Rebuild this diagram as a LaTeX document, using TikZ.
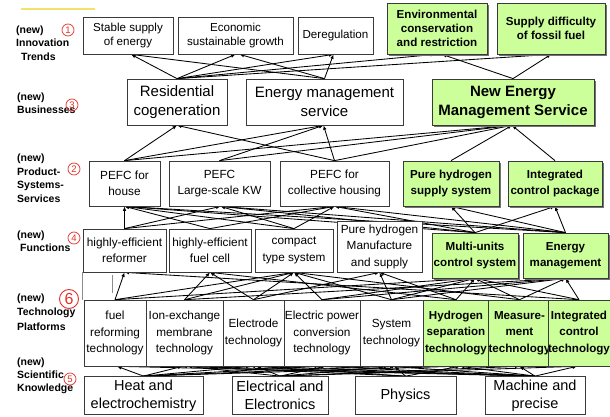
\documentclass[tikz,border=0pt]{standalone}
\usepackage{fontspec}
\setmainfont{Liberation Sans}
\usetikzlibrary{arrows.meta,shadows,backgrounds}
\definecolor{leaf}{HTML}{CCFF99}
\definecolor{mark}{HTML}{E2322B}
\definecolor{frame}{HTML}{3A3A3A}
\definecolor{hilite}{HTML}{F2E46A}
\begin{document}
\begin{tikzpicture}[x=1pt,y=-1pt,
  box/.style={draw=frame, line width=0.75pt, fill=white, inner sep=0pt, align=center},
  hot/.style={box, fill=leaf, drop shadow={shadow xshift=1.6pt, shadow yshift=-1.6pt, fill=black!55, opacity=1}},
  cell/.style={box, line width=0.6pt},
  gcell/.style={cell, fill=leaf},
  fa/.style={font=\fontsize{11.6}{14}\selectfont},
  fab/.style={font=\fontsize{11.6}{14}\selectfont\bfseries},
  fb/.style={font=\fontsize{15}{19}\selectfont},
  fbb/.style={font=\fontsize{15}{19}\selectfont\bfseries},
  fc/.style={font=\fontsize{11.8}{16.5}\selectfont},
  fcb/.style={font=\fontsize{11.6}{16.5}\selectfont\bfseries},
  fd/.style={font=\fontsize{14.5}{18}\selectfont},
  lab/.style={font=\fontsize{10.5}{13.5}\selectfont\bfseries, align=left, anchor=west, inner sep=0pt},
  ring/.style={circle, draw=mark, text=mark, line width=0.7pt, inner sep=0pt, minimum size=12pt, font=\fontsize{9.5}{9.5}\selectfont},
  arr/.style={draw=black, line width=0.85pt, -{Latex[length=4.5pt,width=3.6pt]}},
  rule/.style={draw=black!45, line width=0.5pt}
]
\useasboundingbox (0,0) rectangle (610,417);

% marker strip at the top left
\draw[black!30, line width=2.2pt] (21,9) -- (95,9);
\draw[hilite, line width=1.4pt] (21,9) -- (95,9);

% ---------- row labels ----------
\node[lab] (tIT) at (16,43) {(new)\\Innovation\\\hspace{5pt}Trends};
\node[ring] (n1) at (68,30) {1};
\node[lab, font=\fontsize{10.5}{13}\selectfont\bfseries] (tBU) at (17,103.5) {(new)\\Businesses};
\node[ring] (n3) at (72,105) {3};
\node[lab] (tPS) at (17,178) {(new)\\Product-\\Systems-\\Services};
\node[ring] (n2) at (74,169) {2};
\node[lab] (tFU) at (17,241) {(new)\\\hspace{3pt}Functions};
\node[ring] (n4) at (74,238) {4};
\node[lab, font=\fontsize{10.5}{14.5}\selectfont\bfseries] (tTP) at (17,312) {(new)\\Technology\\Platforms};
\node[ring, minimum size=19pt, line width=0.9pt, font=\fontsize{16}{16}\selectfont] (n6) at (69,299) {6};
\node[lab, font=\fontsize{10.5}{13}\selectfont\bfseries] (tSK) at (17,376) {(new)\\Scientific\\Knowledge};
\node[ring] (n5) at (70,379) {5};

% ---------- innovation trends ----------
\node[box, fa, minimum width=90pt, minimum height=37pt] (stable) at (128,35.5) {Stable supply\\of energy};
\node[box, fa, minimum width=115pt, minimum height=37pt] (econ) at (235.5,35.5) {Economic\\sustainable growth};
\node[box, fa, minimum width=75pt, minimum height=37pt] (dereg) at (335.5,35.5) {Deregulation};
\node[hot, fab, minimum width=100pt, minimum height=51pt] (env) at (437,28.5) {Environmental\\conservation\\and restriction};
\node[hot, fab, minimum width=108pt, minimum height=51pt] (supply) at (551,28.5) {Supply difficulty\\of fossil fuel};

% ---------- businesses ----------
\node[box, fb, minimum width=100pt, minimum height=46pt] (res) at (177,102) {Residential\\cogeneration};
\node[box, fb, minimum width=157pt, minimum height=46pt] (ems) at (324.5,102) {Energy management\\service};
\node[hot, fbb, minimum width=162pt, minimum height=46pt] (nems) at (513,102) {New Energy\\Management Service};

% ---------- product / systems / services ----------
\node[box, fc, minimum width=71pt, minimum height=45pt] (house) at (124.5,183.5) {PEFC for\\house};
\node[box, fc, minimum width=101pt, minimum height=45pt] (large) at (219.5,183.5) {PEFC\\Large-scale KW};
\node[box, fc, minimum width=109pt, minimum height=45pt] (coll) at (334.5,183.5) {PEFC for\\collective housing};
\node[hot, fcb, minimum width=96pt, minimum height=45pt] (h2sup) at (451,183.5) {Pure hydrogen\\supply system};
\node[hot, fcb, minimum width=94pt, minimum height=45pt] (ictrl) at (555,183.5) {Integrated\\control package};

% ---------- functions ----------
\node[box, fc, minimum width=83pt, minimum height=43pt] (reformer) at (124.5,250.5) {highly-efficient\\reformer};
\node[box, fc, minimum width=82pt, minimum height=43pt] (fuelcell) at (210,250.5) {highly-efficient\\fuel cell};
\node[box, fc, minimum width=78pt, minimum height=43pt] (compact) at (294,250.5) {compact\\type system};
\node[box, fc, minimum width=85pt, minimum height=51pt] (pureman) at (379.5,246.5) {Pure hydrogen\\Manufacture\\and supply};
\node[hot, fcb, minimum width=86pt, minimum height=45pt] (multi) at (475,255.5) {Multi-units\\control system};
\node[hot, fcb, minimum width=85pt, minimum height=45pt] (emgmt) at (565.5,255.5) {Energy\\management};

% ---------- technology platforms ----------
\node[cell, fc, minimum width=62pt, minimum height=66pt] (fuelref) at (115,333) {fuel\\reforming\\technology};
\node[cell, fc, minimum width=77pt, minimum height=66pt] (ionex) at (184.5,333) {Ion-exchange\\membrane\\technology};
\node[cell, fc, minimum width=61pt, minimum height=66pt] (electrode) at (253.5,333) {Electrode\\technology};
\node[cell, fc, minimum width=76pt, minimum height=66pt] (elecpow) at (322,333) {Electric power\\conversion\\technology};
\node[cell, fc, minimum width=63pt, minimum height=66pt] (system) at (391.5,333) {System\\technology};
\node[gcell, fcb, minimum width=66pt, minimum height=66pt] (h2sep) at (456,333) {Hydrogen\\separation\\technology};
\node[gcell, fcb, minimum width=61pt, minimum height=66pt] (measure) at (519.5,333) {Measure-\\ment\\technology};
\node[gcell, fcb, minimum width=58pt, minimum height=66pt] (integ) at (579,333) {Integrated\\control\\technology};

% ---------- scientific knowledge ----------
\node[box, fd, minimum width=119pt, minimum height=38pt] (heat) at (143.5,395.5) {Heat and\\electrochemistry};
\node[box, fd, minimum width=96pt, minimum height=38pt] (elec) at (280,395.5) {Electrical and\\Electronics};
\node[box, fd, minimum width=101pt, minimum height=38pt] (phys) at (405.5,395.5) {Physics};
\node[box, fd, minimum width=100pt, minimum height=38pt] (mach) at (535,395.5) {Machine and\\precise};

% thin guide rules between functions and platforms
\coordinate (g1) at (112,275);
\coordinate (g2) at (112,293);
\draw[rule] (reformer.south west) -- (reformer.south west |- fuelref.north);
\draw[rule] (g1) -- (g2);

\begin{scope}[on background layer]
% businesses -> trends
\draw[arr] (res.north) -- ([xshift=3pt]stable.south);
\draw[arr] (res.north) -- (econ.south);
\draw[arr] (res.north) -- ([xshift=-2pt]dereg.south);
\draw[arr] (res.north) -- ([xshift=-2pt]env.south);
\draw[arr] (res.north) -- (supply.south);
\draw[arr] (ems.north) -- ([xshift=3pt]stable.south);
\draw[arr] (ems.north) -- ([xshift=4pt]econ.south);
\draw[arr] (ems.north) -- ([xshift=-2pt]dereg.south);
\draw[arr] (nems.north) -- ([xshift=5pt]env.south);
\draw[arr] (nems.north) -- (supply.south);

% products -> businesses
\draw[arr] (house.north) -- (res.south);
\draw[arr] (house.north) -- ([xshift=-1pt]ems.south);
\draw[arr] (house.north) -- ([xshift=-1pt]nems.south);
\draw[arr] (large.north) -- ([xshift=-1pt]ems.south);
\draw[arr] (large.north) -- ([xshift=-1pt]nems.south);
\draw[arr] (coll.north) -- (res.south);
\draw[arr] (coll.north) -- ([xshift=-1pt]ems.south);
\draw[arr] (coll.north) -- ([xshift=-1pt]nems.south);
\draw[arr] (h2sup.north) -- ([xshift=-1pt]nems.south);
\draw[arr] (ictrl.north) -- ([xshift=-1pt]nems.south);

% functions -> products
\draw[arr] (reformer.north) -- (house.south);
\draw[arr] (reformer.north) -- ([xshift=1pt]large.south);
\draw[arr] (reformer.north) -- (coll.south);
\draw[arr] (fuelcell.north) -- (house.south);
\draw[arr] (fuelcell.north) -- (coll.south);
\draw[arr] (compact.north) -- (house.south);
\draw[arr] (compact.north) -- ([xshift=1pt]large.south);
\draw[arr] (compact.north) -- (coll.south);
\draw[arr] (multi.north) -- (house.south);
\draw[arr] (multi.north) -- ([xshift=1pt]large.south);
\draw[arr] (multi.north) -- (coll.south);
\draw[arr] (multi.north) -- (h2sup.south);
\draw[arr] (multi.north) -- (ictrl.south);
\draw[arr] (emgmt.north) -- (house.south);
\draw[arr] (emgmt.north) -- ([xshift=1pt]large.south);
\draw[arr] (emgmt.north) -- (coll.south);
\draw[arr] (emgmt.north) -- (h2sup.south);
\draw[arr] (emgmt.north) -- (ictrl.south);

% platforms -> functions
\draw[arr] (fuelref.north) -- (reformer.south);
\draw[arr] (fuelref.north) -- (compact.south);
\draw[arr] (fuelref.north) -- (multi.south);
\draw[arr] (ionex.north) -- (fuelcell.south);
\draw[arr] (ionex.north) -- (compact.south);
\draw[arr] (ionex.north) -- (emgmt.south);
\draw[arr] (electrode.north) -- (fuelcell.south);
\draw[arr] (electrode.north) -- (compact.south);
\draw[arr] (electrode.north) -- (pureman.south);
\draw[arr] (elecpow.north) -- (compact.south);
\draw[arr] (elecpow.north) -- (multi.south);
\draw[arr] (elecpow.north) -- (emgmt.south);
\draw[arr] (system.north) -- (compact.south);
\draw[arr] (system.north) -- (pureman.south);
\draw[arr] (system.north) -- (multi.south);
\draw[arr] (system.north) -- (emgmt.south);
\draw[arr] (h2sep.north) -- (pureman.south);
\draw[arr] (h2sep.north) -- (multi.south);
\draw[arr] (h2sep.north) -- (fuelcell.south);
\draw[arr] (measure.north) -- (multi.south);
\draw[arr] (measure.north) -- (emgmt.south);
\draw[arr] (measure.north) -- (compact.south);
\draw[arr] (integ.north) -- (multi.south);
\draw[arr] (integ.north) -- (emgmt.south);
\draw[arr] (integ.north) -- (reformer.south);

% knowledge -> platforms
\draw[arr] (heat.north) -- ([xshift=2pt]fuelref.south);
\draw[arr] (heat.north) -- ([xshift=-2pt]ionex.south);
\draw[arr] (heat.north) -- ([xshift=-3pt]electrode.south);
\draw[arr] (heat.north) -- ([xshift=-3pt]elecpow.south);
\draw[arr] (heat.north) -- ([xshift=-3pt]system.south);
\draw[arr] (heat.north) -- ([xshift=-2pt]h2sep.south);
\draw[arr] (elec.north) -- ([xshift=3pt]ionex.south);
\draw[arr] (elec.north) -- ([xshift=3pt]electrode.south);
\draw[arr] (elec.north) -- ([xshift=3pt]elecpow.south);
\draw[arr] (elec.north) -- ([xshift=3pt]system.south);
\draw[arr] (elec.north) -- (measure.south);
\draw[arr] (elec.north) -- ([xshift=-2pt]integ.south);
\draw[arr] (phys.north) -- ([xshift=3pt]ionex.south);
\draw[arr] (phys.north) -- ([xshift=3pt]electrode.south);
\draw[arr] (phys.north) -- ([xshift=3pt]system.south);
\draw[arr] (phys.north) -- ([xshift=4pt]h2sep.south);
\draw[arr] (mach.north) -- ([xshift=2pt]fuelref.south);
\draw[arr] (mach.north) -- ([xshift=-2pt]ionex.south);
\draw[arr] (mach.north) -- ([xshift=-3pt]electrode.south);
\draw[arr] (mach.north) -- ([xshift=-3pt]elecpow.south);
\draw[arr] (mach.north) -- ([xshift=-3pt]system.south);
\draw[arr] (mach.north) -- ([xshift=4pt]h2sep.south);
\draw[arr] (mach.north) -- (measure.south);
\draw[arr] (mach.north) -- ([xshift=-2pt]integ.south);
\end{scope}
\end{tikzpicture}
\end{document}
